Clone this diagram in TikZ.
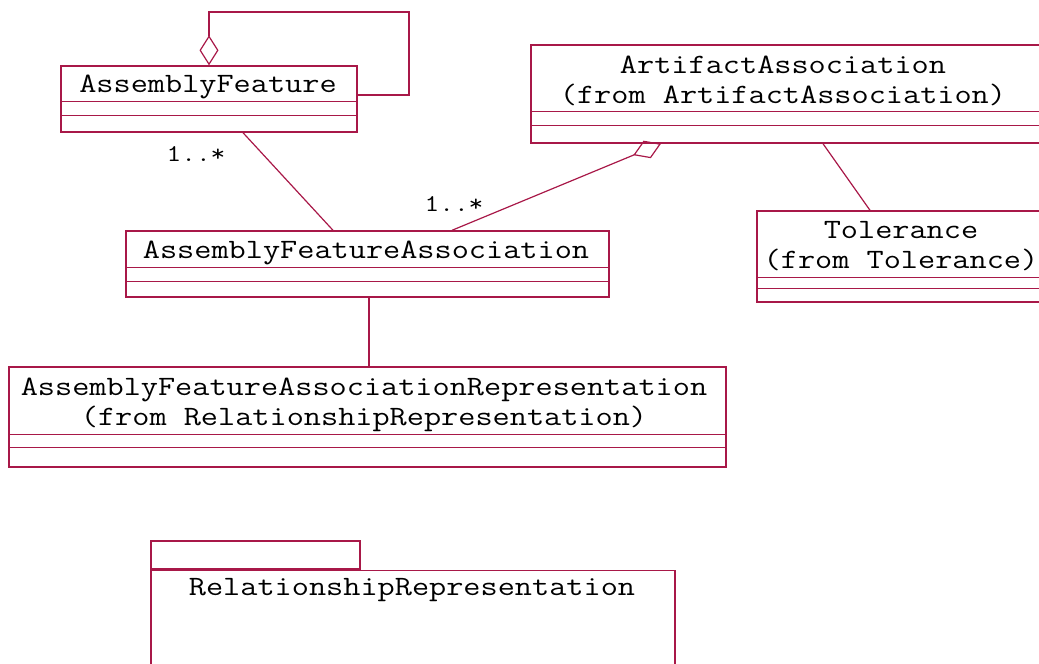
\documentclass[tikz,border=0pt]{standalone}
\usepackage{fontspec}
\setmonofont[FakeStretch=1.19]{Latin Modern Mono}
\usetikzlibrary{arrows.meta,calc}
\definecolor{umlred}{RGB}{168,24,72}

\tikzset{
  classbox/.style={draw=umlred, line width=1.4pt, rectangle, inner sep=0pt},
  classname/.style={font=\ttfamily\fontsize{28}{30}\selectfont, align=center, anchor=base, inner sep=0pt},
  mult/.style={font=\ttfamily\fontsize{24}{24}\selectfont, anchor=base, inner sep=0pt},
  assoc/.style={draw=umlred, line width=1.2pt},
  aggr/.style={assoc, -{Diamond[open, length=30pt, width=19pt, line width=1.2pt]}}
}
% two compartment lines under the name
\def \seps#1#2#3{
  \draw[umlred, line width=1.4pt] ($(#1.north west)+(0,#2)$) -- ($(#1.north east)+(0,#2)$);
  \draw[umlred, line width=1.4pt] ($(#1.north west)+(0,#3)$) -- ($(#1.north east)+(0,#3)$);
}

\begin{document}
\begin{tikzpicture}[x=1pt, y=-1pt]

    \useasboundingbox (0,0) rectangle (1039,664);

    % classes (base anchor = last line)
    \node[classbox, minimum width=296, minimum height=66] (af) at (209,99) {};
    \node[classname] (af-name) at (208,92) {AssemblyFeature};
    \seps{af}{36}{50}

    \node[classbox, minimum width=509, minimum height=98] (aa) at (785.5,94) {};
    \node[classname] (aa-name) at (783,103) {ArtifactAssociation\\(from ArtifactAssociation)};
    \seps{aa}{67}{81}

    \node[classbox, minimum width=293, minimum height=91] (tol) at (903.5,256.5) {};
    \node[classname] (tol-name) at (901,268) {Tolerance\\(from Tolerance)};
    \seps{tol}{67}{78}

    \node[classbox, minimum width=483, minimum height=66] (afa) at (367.5,264) {};
    \node[classname] (afa-name) at (366,258) {AssemblyFeatureAssociation};
    \seps{afa}{37}{51}

    \node[classbox, minimum width=717, minimum height=100] (afar) at (367.5,417) {};
    \node[classname] (afar-name) at (364,425) {AssemblyFeatureAssociationRepresentation\\(from RelationshipRepresentation)};
    \seps{afar}{68}{81}

    % package
    \node[classbox, minimum width=209, minimum height=28] (rr-tab) at (255.5,555) {};
    \node[classbox, minimum width=524, minimum height=120, anchor=north west] (rr) at (rr-tab.south west) {};
    \node[classname] (rr-name) at (412,595) {RelationshipRepresentation};

    % connectors
    \draw[aggr] (af.east |- 0,95) -| (409,12) -| (af.north);
    \draw[assoc] (af.south -| 243,0) -- (afa.north -| 333,0);
    \draw[aggr] (afa.north -| 452,0) -- (aa.south -| 661,0);
    \draw[assoc] (aa.south -| 823,0) -- (tol.north -| 870,0);
    \draw[assoc] (afa.south -| 369,0) -- (afar.north -| 369,0);

    \node[mult] (m1) at (196,161) {1..*};
    \node[mult] (m2) at (454,211) {1..*};

\end{tikzpicture}
\end{document}
